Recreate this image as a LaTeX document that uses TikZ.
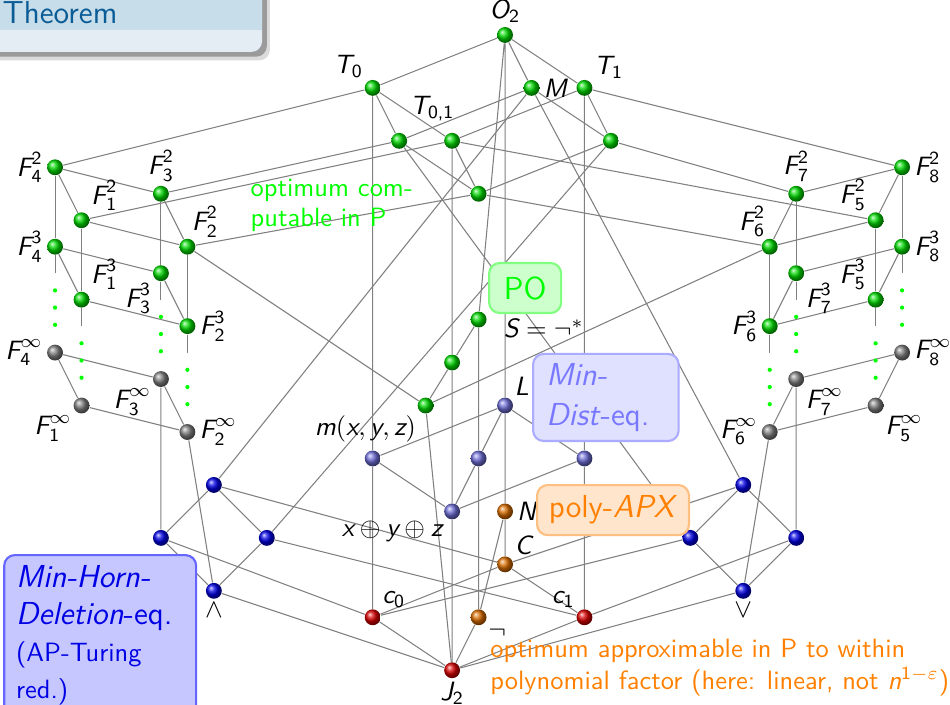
\documentclass[tikz,border=0pt]{standalone}
\usepackage{amsmath}
\usetikzlibrary{positioning,backgrounds}
\renewcommand{\familydefault}{\sfdefault}

\definecolor{blocktitle}{RGB}{200,221,234}
\definecolor{blockbody}{RGB}{229,237,244}
\definecolor{blocktext}{RGB}{10,92,150}
\definecolor{lblue}{RGB}{110,110,215}

\newcommand{\Fk}[2]{$\textit{F}_{\text{#1}}^{\text{#2}}$}
\newcommand{\Fi}[1]{$\textit{F}_{\text{#1}}^{\infty}$}
\newcommand{\Ix}[2]{$\textit{#1}_{\text{#2}}$}

\tikzset{
  cls/.style={circle,inner sep=0pt,minimum size=6pt,ball color=#1},
  gcls/.style={cls=green!85!black},
  kcls/.style={cls=gray},
  lcls/.style={cls=lblue},
  bcls/.style={cls=blue!90!black},
  ocls/.style={cls=orange!85!black},
  rcls/.style={cls=red!85!black},
  link/.style={gray,line width=0.4pt},
  every label/.style={inner sep=1.2pt},
  infobox/.style={rounded corners=4pt,line width=0.8pt,inner sep=0pt}
}

\begin{document}
\begin{tikzpicture}[on grid]
  \useasboundingbox (-190.8pt,13.2pt) rectangle (168.1pt,-253.1pt);

  % Theorem block
  \fill[black!70,opacity=0.2,rounded corners=4pt] (-200pt,20pt) rectangle (-88.8pt,-9.6pt);
  \fill[black!70,opacity=0.45,rounded corners=4pt] (-200pt,20pt) rectangle (-90.0pt,-8.2pt);
  \fill[blockbody,rounded corners=4pt] (-200pt,20pt) rectangle (-91.8pt,-6.4pt);
  \fill[blocktitle] (-200pt,20pt) rectangle (-91.8pt,1.9pt);
  \node[anchor=base west,inner sep=0pt,text=blocktext,font=\fontsize{12pt}{14pt}\selectfont] (thm) at (-190pt,4.2pt) {Theorem};

  % Top classes
  \node[gcls,label={above:\Ix{O}{2}}] (O2) at (0,0) {};
  \node[gcls,below left=20pt and 50pt of O2,label={above left:\Ix{T}{0}}] (T0) {};
  \node[gcls,below right=20pt and 10pt of O2,label={right:\textit{M}}] (M) {};
  \node[gcls,below right=20pt and 30pt of O2,label={above right:\Ix{T}{1}}] (T1) {};
  \node[gcls,below right=20pt and 10pt of T0] (T0M) {};
  \node[gcls,below right=20pt and 30pt of T0,label={[xshift=-7.5pt,yshift=3pt]above:\Ix{T}{0,1}}] (T01) {};
  \node[gcls,below right=20pt and 10pt of T1] (T1M) {};
  \node[gcls,below right=20pt and 10pt of T01] (T01M) {};

  % Self-dual chain
  \node[gcls,below left=107.5pt and 10pt of O2,label={[label distance=5pt,yshift=-3.4pt]right:$\textit{S}=\neg^*$}] (S) {};
  \node[gcls,below left=16.25pt and 10pt of S] (S01) {};
  \node[gcls,below left=16.25pt and 10pt of S01,label={below left:$\textit{m}(\textit{x},\textit{y},\textit{z})$}] (Sm) {};

  % Linear classes
  \node[lcls,below=140pt of O2,label={above right:\textit{L}}] (L) {};
  \node[lcls,below left=20pt and 50pt of L] (L0) {};
  \node[lcls,below left=20pt and 10pt of L] (LS) {};
  \node[lcls,below right=20pt and 30pt of L] (L1) {};
  \node[lcls,below left=20pt and 10pt of LS,label={below left:$\textit{x}\oplus\textit{y}\oplus\textit{z}$}] (L01) {};

  % Bottom
  \node[ocls,below=40pt of L,label={right:\textit{N}}] (N) {};
  \node[ocls,below=20pt of N,label={above right:\textit{C}}] (C) {};
  \node[rcls,below left=20pt and 50pt of C,label={above right:\Ix{c}{0}}] (c0) {};
  \node[ocls,below left=20pt and 10pt of C,label={below right:$\neg$}] (neg) {};
  \node[rcls,below right=20pt and 30pt of C,label={above left:\Ix{c}{1}}] (c1) {};
  \node[rcls,below left=20pt and 10pt of neg,label={below:\Ix{J}{2}}] (J2) {};

  % Conjunction and disjunction
  \node[bcls,below left=10pt and 60pt of L0] (Ec) {};
  \node[bcls,below left=20pt and 20pt of Ec] (E0) {};
  \node[bcls,below right=20pt and 20pt of Ec] (E1) {};
  \node[bcls,below=40pt of Ec,label={below:$\wedge$}] (wedge) {};
  \node[bcls,below right=10pt and 60pt of L1] (Vc) {};
  \node[bcls,below left=20pt and 20pt of Vc] (V0) {};
  \node[bcls,below right=20pt and 20pt of Vc] (V1) {};
  \node[bcls,below=40pt of Vc,label={below:$\vee$}] (vee) {};

  % Left cube
  \node[gcls,below left=30pt and 120pt of T0,label={left:\Fk{4}{2}}] (F42) {};
  \node[gcls,below right=10pt and 40pt of F42,label={above:\Fk{3}{2}}] (F32) {};
  \node[gcls,below right=20pt and 10pt of F42,label={above right:\Fk{1}{2}}] (F12) {};
  \node[gcls,below right=20pt and 10pt of F32,label={[xshift=-2pt]above right:\Fk{2}{2}}] (F22) {};
  \node[gcls,below=30pt of F42,label={left:\Fk{4}{3}}] (F43) {};
  \node[gcls,below=30pt of F32,label={below left:\Fk{3}{3}}] (F33) {};
  \node[gcls,below=30pt of F12,label={above right:\Fk{1}{3}}] (F13) {};
  \node[gcls,below=30pt of F22,label={right:\Fk{2}{3}}] (F23) {};
  \node[kcls,below=40pt of F43,label={left:\Fi{4}}] (F4i) {};
  \node[kcls,below=40pt of F33,label={below left:\Fi{3}}] (F3i) {};
  \node[kcls,below=40pt of F13,label={below left:\Fi{1}}] (F1i) {};
  \node[kcls,below=40pt of F23,label={right:\Fi{2}}] (F2i) {};

  % Right cube
  \node[gcls,below right=30pt and 120pt of T1,label={right:\Fk{8}{2}}] (F82) {};
  \node[gcls,below left=10pt and 40pt of F82,label={above:\Fk{7}{2}}] (F72) {};
  \node[gcls,below left=20pt and 10pt of F82,label={above left:\Fk{5}{2}}] (F52) {};
  \node[gcls,below left=20pt and 10pt of F72,label={[xshift=2pt]above left:\Fk{6}{2}}] (F62) {};
  \node[gcls,below=30pt of F82,label={right:\Fk{8}{3}}] (F83) {};
  \node[gcls,below=30pt of F72,label={below right:\Fk{7}{3}}] (F73) {};
  \node[gcls,below=30pt of F52,label={above left:\Fk{5}{3}}] (F53) {};
  \node[gcls,below=30pt of F62,label={left:\Fk{6}{3}}] (F63) {};
  \node[kcls,below=40pt of F83,label={right:\Fi{8}}] (F8i) {};
  \node[kcls,below=40pt of F73,label={below right:\Fi{7}}] (F7i) {};
  \node[kcls,below=40pt of F53,label={below right:\Fi{5}}] (F5i) {};
  \node[kcls,below=40pt of F63,label={left:\Fi{6}}] (F6i) {};

  % Dots between the levels
  \foreach \f in {F43,F33,F13,F23,F83,F73,F53,F63}
    \foreach \d in {16.5pt,23pt,29.5pt}
      \fill[green] (\f) ++(0,-\d) circle (0.8pt);

  \begin{pgfonlayer}{background}
    % Upper part
    \draw[link] (O2) -- (T0) (O2) -- (M) (O2) -- (T1) (O2) -- (S) (O2) -- (L);
    \draw[link] (T0) -- (F42) (T0) -- (T0M) (T0) -- (T01) (T0) -- (L0);
    \draw[link] (T1) -- (F82) (T1) -- (T01) (T1) -- (T1M) (T1) -- (L1);
    \draw[link] (M) -- (T0M) (M) -- (T1M) (M) -- (Ec) (M) -- (Vc);
    \draw[link] (T0M) -- (T01M) (T0M) -- (F32) (T0M) -- (V0);
    \draw[link] (T1M) -- (T01M) (T1M) -- (F72) (T1M) -- (E1);
    \draw[link] (T01) -- (T01M) (T01) -- (F12) (T01) -- (F52) (T01) -- (S01);
    \draw[link] (T01M) -- (F22) (T01M) -- (F62);
    \draw[link] (S) -- (S01) (S) -- (LS) (S01) -- (Sm) (S01) -- (L01) (Sm) -- (J2);
    \draw[link] (F22) -- (Sm) (F62) -- (Sm);

    % Lower part
    \draw[link] (L) -- (L0) (L) -- (LS) (L) -- (L1) (L) -- (N);
    \draw[link] (L0) -- (L01) (L0) -- (c0) (L1) -- (L01) (L1) -- (c1);
    \draw[link] (LS) -- (L01) (LS) -- (neg) (L01) -- (J2);
    \draw[link] (N) -- (C) (N) -- (neg) (C) -- (c0) (C) -- (c1);
    \draw[link] (neg) -- (J2) (c0) -- (J2) (c1) -- (J2);
    \draw[link] (Ec) -- (E0) (Ec) -- (E1) (Ec) -- (C);
    \draw[link] (E0) -- (wedge) (E0) -- (c0) (E1) -- (wedge) (E1) -- (c1) (wedge) -- (J2);
    \draw[link] (Vc) -- (V0) (Vc) -- (V1) (Vc) -- (C);
    \draw[link] (V0) -- (vee) (V0) -- (c0) (V1) -- (vee) (V1) -- (c1) (vee) -- (J2);
    \draw[link] (F3i) -- (E0) (F2i) -- (wedge) (F7i) -- (V1) (F6i) -- (vee);

    % Left cube
    \draw[link] (F42) -- (F32) (F42) -- (F12) (F32) -- (F22) (F12) -- (F22);
    \draw[link] (F43) -- (F33) (F43) -- (F13) (F33) -- (F23) (F13) -- (F23);
    \draw[link] (F4i) -- (F3i) (F4i) -- (F1i) (F3i) -- (F2i) (F1i) -- (F2i);
    \draw[link] (F42) -- (F43) (F32) -- (F33) (F12) -- (F13) (F22) -- (F23);

    % Right cube
    \draw[link] (F82) -- (F72) (F82) -- (F52) (F72) -- (F62) (F52) -- (F62);
    \draw[link] (F83) -- (F73) (F83) -- (F53) (F73) -- (F63) (F53) -- (F63);
    \draw[link] (F8i) -- (F7i) (F8i) -- (F5i) (F7i) -- (F6i) (F5i) -- (F6i);
    \draw[link] (F82) -- (F83) (F72) -- (F73) (F52) -- (F53) (F62) -- (F63);

    \foreach \f in {F43,F33,F13,F23,F83,F73,F53,F63}
      \draw[link] (\f) -- ++(0,-10pt);
  \end{pgfonlayer}

  % Texts
  \node[anchor=north west,align=left,text=green,inner sep=0pt,font=\fontsize{10pt}{11.3pt}\selectfont] (ptxt) at (-96.3pt,-54.4pt) {optimum com-\\putable in P};
  \node[anchor=north west,align=left,text=orange,inner sep=0pt] (apxtxt) at (-5.7pt,-228pt) {optimum approximable in P to within\\polynomial factor (here: linear, not $\textit{n}^{\text{1}-\varepsilon}$)};

  % Boxes
  \node[infobox,draw=green!50,fill=green!20,text=green,font=\large,minimum width=27.2pt,minimum height=18.9pt] (po) at (7.6pt,-95.6pt) {PO};
  \node[infobox,draw=blue!33,fill=blue!12,text=blue!53,font=\large,anchor=north west,text width=45pt,align=left,inner xsep=5pt,inner ysep=3.4pt,minimum height=32.9pt] (mind) at (10.2pt,-120.1pt) {\textit{Min-}\\[1.3pt]\textit{Dist}-eq.};
  \node[infobox,draw=orange!50,fill=orange!20,text=orange,font=\large,minimum width=57.4pt,minimum height=18.9pt] (papx) at (40.8pt,-179.5pt) {poly-\textit{APX}};
  \node[infobox,draw=blue!60,fill=blue!22,text=blue!90!black,font=\large,anchor=north west,text width=63.5pt,align=left,inner xsep=4.5pt,inner ysep=4pt] (mhd) at (-189.6pt,-196.1pt) {\textit{Min-Horn-}\\\textit{Deletion}-eq.\\{\normalsize (AP-Turing}\\{\normalsize red.)}};
\end{tikzpicture}
\end{document}
